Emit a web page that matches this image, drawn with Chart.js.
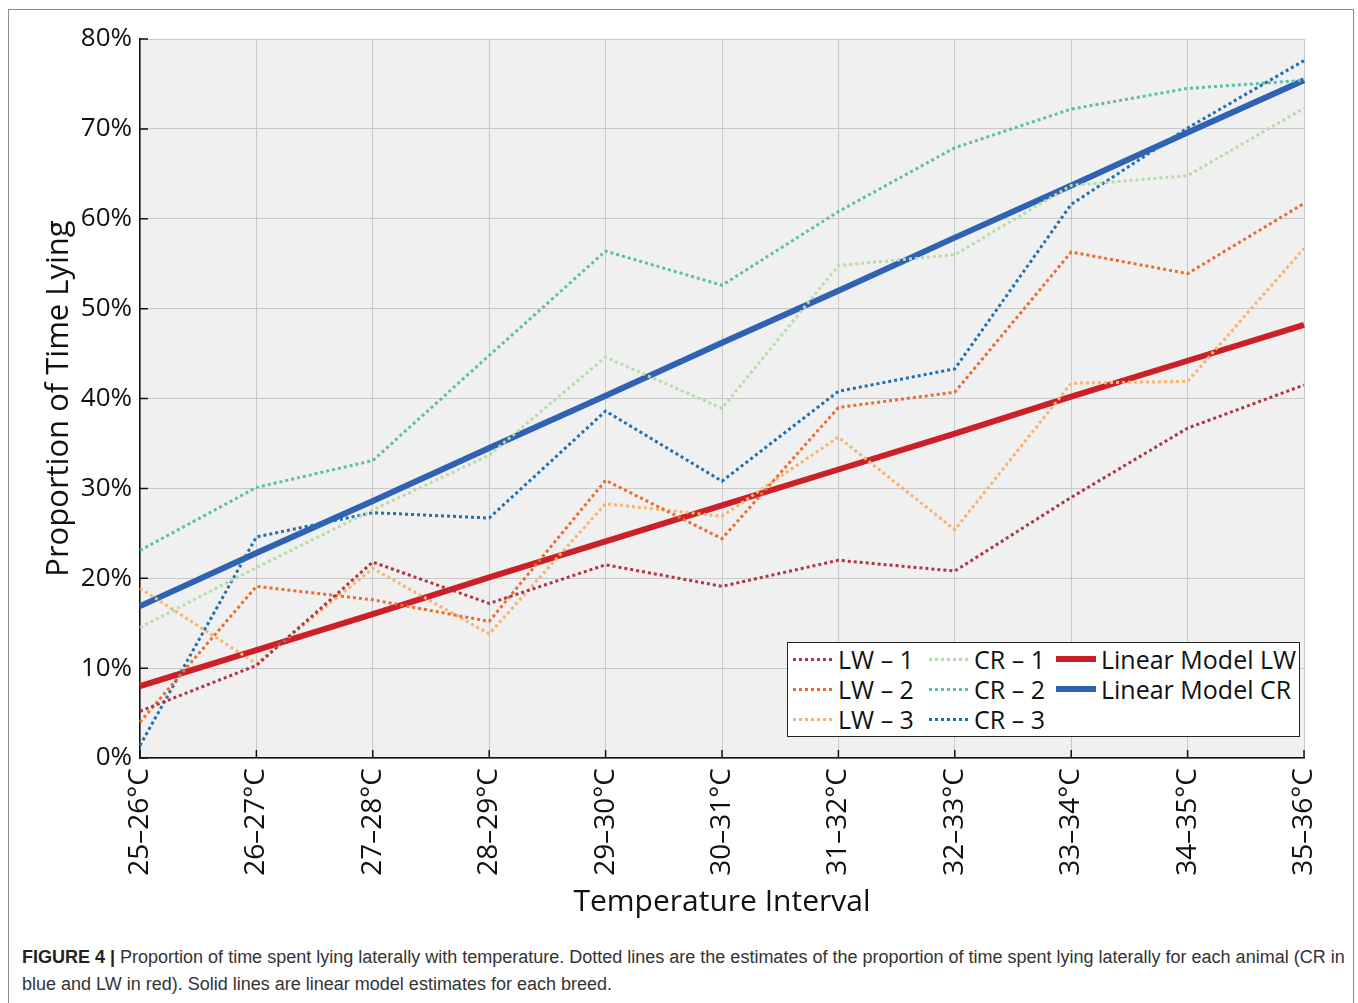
<!DOCTYPE html>
<html>
<head>
<meta charset="utf-8">
<script src="https://cdn.jsdelivr.net/npm/chart.js@4.4.1/dist/chart.umd.min.js"></script>
<style>
  html, body { margin: 0; padding: 0; background: #fff; }
  body { width: 1358px; height: 1003px; position: relative; overflow: hidden; }
  #frame { position: absolute; left: 8px; top: 9px; width: 1346px; height: 1010px; border: 1.5px solid #8a8a8a; box-sizing: border-box; }
  #wrap { position: absolute; left: 0; top: 0; width: 1358px; height: 925px; }
  #legend { position: absolute; left: 787px; top: 642px; width: 513px; height: 95px; border: 1.5px solid #222; background: #fff; box-sizing: border-box; font-family: "Open Sans", sans-serif; font-size: 25px; color: #111; }
  .item { position: absolute; height: 30px; display: flex; align-items: center; white-space: nowrap; }
  .sample { width: 40px; height: 3px; margin-right: 5px; }
  #caption { position: absolute; left: 22px; top: 944px; width: 1336px; font-family: "Liberation Sans", Arial, sans-serif; font-size: 18px; line-height: 27px; color: #333; white-space: nowrap; }
  #caption b { color: #222; }
</style>
</head>
<body>
<div id="frame"></div>
<div id="wrap"><canvas id="c"></canvas></div>
<div id="legend"></div>
<div id="caption"><b>FIGURE 4 |</b> Proportion of time spent lying laterally with temperature. Dotted lines are the estimates of the proportion of time spent lying laterally for each animal (CR in<br>blue and LW in red). Solid lines are linear model estimates for each breed.</div>
<script>
const categories = ["25–26°C","26–27°C","27–28°C","28–29°C","29–30°C","30–31°C","31–32°C","32–33°C","33–34°C","34–35°C","35–36°C"];
const yTicks = [0,10,20,30,40,50,60,70,80];
const seriesLabels = ["LW – 1","LW – 2","LW – 3","CR – 1","CR – 2","CR – 3","Linear Model LW","Linear Model CR"];
const lw1 = [5.2,10.3,21.8,17.2,21.5,19.1,22.0,20.8,29.0,36.7,41.5];
const lw2 = [4.0,19.1,17.6,15.2,30.9,24.4,39.0,40.7,56.3,53.9,61.7];
const lw3 = [18.9,10.5,21.1,13.8,28.3,26.9,35.7,25.4,41.7,41.9,56.7];
const cr1 = [14.5,21.2,27.6,33.7,44.6,38.9,54.8,56.0,63.7,64.8,72.3];
const cr2 = [23.1,30.1,33.1,44.8,56.4,52.6,60.8,67.9,72.2,74.5,75.4];
const cr3 = [1.4,24.6,27.3,26.7,38.6,30.8,40.8,43.3,61.6,70.1,77.6];
const linearLW = [8.0,12.0,16.0,20.1,24.1,28.1,32.1,36.1,40.2,44.2,48.2];
const linearCR = [16.9,22.8,28.6,34.5,40.3,46.2,52.0,57.9,63.7,69.6,75.4];

const colors = ["#b03545","#ec6c2f","#f8b36c","#b6dda8","#5cbfa9","#1f70b0","#cc1f27","#2f62b2"];
const values = [lw1,lw2,lw3,cr1,cr2,cr3,linearLW,linearCR];

const datasets = values.map((v,i) => {
  const solid = i >= 6;
  return {
    label: seriesLabels[i],
    data: v,
    borderColor: colors[i],
    backgroundColor: colors[i],
    borderWidth: solid ? 6 : 3,
    borderDash: solid ? [] : [3,3],
    pointRadius: 0,
    tension: 0,
    fill: false,
    order: solid ? 10 : 1
  };
});

const innerTicks = {
  id: 'innerTicks',
  afterDatasetsDraw(chart) {
    const ctx = chart.ctx, a = chart.chartArea;
    const xs = chart.scales.x, ys = chart.scales.y;
    ctx.save();
    ctx.strokeStyle = '#111';
    ctx.lineWidth = 1.5;
    ctx.beginPath();
    ys.ticks.forEach((t,i) => {
      const y = ys.getPixelForTick(i);
      ctx.moveTo(a.left, y); ctx.lineTo(a.left + 8, y);
    });
    categories.forEach((c,i) => {
      const x = xs.getPixelForTick(i);
      ctx.moveTo(x, a.bottom); ctx.lineTo(x, a.bottom - 8);
    });
    ctx.stroke();
    ctx.restore();
  }
};

const plotBg = {
  id: 'plotBg',
  beforeDraw(chart) {
    const ctx = chart.ctx, a = chart.chartArea;
    ctx.save();
    ctx.fillStyle = '#f0f0f0';
    ctx.fillRect(a.left, a.top, a.right - a.left, a.bottom - a.top);
    ctx.restore();
  }
};

const chart = new Chart(document.getElementById('c'), {
  type: 'line',
  data: { labels: categories, datasets },
  options: {
    responsive: true,
    maintainAspectRatio: false,
    animation: false,
    layout: { padding: { left: 30, right: 54, top: 39, bottom: 0 } },
    plugins: { legend: { display: false }, tooltip: { enabled: false } },
    scales: {
      x: {
        type: 'category',
        offset: false,
        grid: { color: '#c9c9c9', lineWidth: 1, drawTicks: false },
        border: { color: '#111', width: 1.5 },
        ticks: { color: '#111', font: { family: 'Open Sans', size: 28 }, minRotation: 90, maxRotation: 90, padding: 10, autoSkip: false },
        title: { display: true, text: 'Temperature Interval', color: '#111', font: { family: 'Open Sans', size: 30 }, padding: { top: 0, bottom: 5 } },
        afterFit(s) { s.height = 167; }
      },
      y: {
        min: 0, max: 80,
        afterBuildTicks(s) { s.ticks = yTicks.map(v => ({ value: v })); },
        grid: { color: '#c9c9c9', lineWidth: 1, drawTicks: false },
        border: { color: '#111', width: 1.5 },
        ticks: { color: '#111', font: { family: 'Open Sans', size: 26 }, padding: 8, callback: v => v + '%' },
        title: { display: true, text: 'Proportion of Time Lying', color: '#111', font: { family: 'Open Sans', size: 31 }, padding: { top: 11, bottom: 0 } },
        afterFit(s) { s.width = 110; }
      }
    }
  },
  plugins: [plotBg, innerTicks]
});

// legend built from chart datasets, column-major (3 rows)
const leg = document.getElementById('legend');
const colX = [[5,50],[141,183],[268,317]];
chart.data.datasets.forEach((ds, i) => {
  const col = Math.floor(i / 3), row = i % 3;
  const item = document.createElement('div');
  item.className = 'item';
  item.style.left = colX[col][0] + 'px';
  item.style.top = (1 + row * 30) + 'px';
  const s = document.createElement('span');
  s.className = 'sample';
  if (ds.borderDash.length) {
    s.style.background = `repeating-linear-gradient(to right, ${ds.borderColor} 0 3px, transparent 3px 6px)`;
    s.style.height = '3px';
  } else {
    s.style.background = ds.borderColor;
    s.style.height = '6px';
  }
  const t = document.createElement('span');
  t.textContent = ds.label;
  item.appendChild(s); item.appendChild(t);
  leg.appendChild(item);
});
</script>
</body>
</html>
